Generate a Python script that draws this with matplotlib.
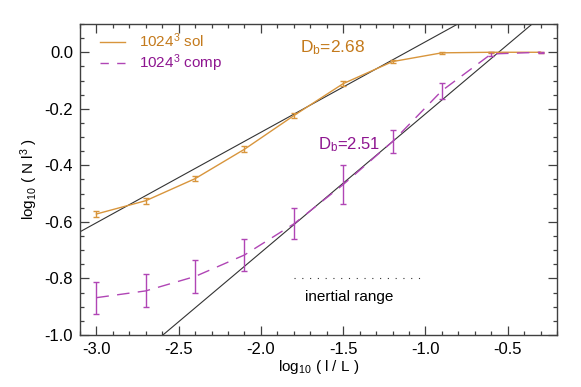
import numpy as np
import matplotlib
matplotlib.use("Agg")
import matplotlib.pyplot as plt
from matplotlib.ticker import MultipleLocator
from matplotlib.lines import Line2D

plt.rcParams['font.family'] = ['Liberation Sans', 'DejaVu Sans']
plt.rcParams['mathtext.fontset'] = 'custom'
plt.rcParams['mathtext.rm'] = 'Liberation Sans'
plt.rcParams['mathtext.it'] = 'Liberation Sans'
plt.rcParams['mathtext.default'] = 'regular'
plt.rcParams['axes.unicode_minus'] = False

# data
log_l = [-3.0, -2.7, -2.4, -2.1, -1.8, -1.5, -1.2, -0.9, -0.6, -0.3]
sol_y = [-0.572, -0.525, -0.447, -0.343, -0.224, -0.111, -0.033, -0.002, 0.0, 0.0]
sol_err = [0.010, 0.010, 0.010, 0.010, 0.010, 0.008, 0.006, 0.003, 0.002, 0.001]
comp_y = [-0.868, -0.844, -0.793, -0.717, -0.607, -0.468, -0.316, -0.136, -0.006, 0.0]
comp_err = [0.057, 0.058, 0.059, 0.057, 0.055, 0.068, 0.042, 0.028, 0.008, 0.002]
fit_sol_D, fit_sol_c = 2.68, 0.357
fit_comp_D, fit_comp_c = 2.51, 0.272
inertial = [-1.8, -1.0]
inertial_y = -0.8

c_sol_line = '#D8953C'
c_sol_text = '#C47A1C'
c_comp_line = '#B045B5'
c_comp_text = '#8E1590'
spine_c = '#404040'

fig = plt.figure(figsize=(5.81, 3.87), dpi=100)
ax = fig.add_axes([0.1377, 0.1344, 0.821, 0.8036])

xf = np.array([-3.1, -0.2])
ax.plot(xf, (3 - fit_sol_D) * xf + fit_sol_c, color='#333333', lw=0.8)
ax.plot(xf, (3 - fit_comp_D) * xf + fit_comp_c, color='#333333', lw=0.8)

comp_ls = (0, (9, 6))
ax.errorbar(log_l, sol_y, yerr=sol_err, color=c_sol_line, lw=1.0,
            elinewidth=1.0, capsize=2, capthick=1.0)
ax.errorbar(log_l, comp_y, yerr=comp_err, color=c_comp_line, lw=1.0,
            ls=comp_ls, elinewidth=1.0, capsize=2, capthick=1.0)

ax.plot(inertial, [inertial_y, inertial_y], ls=(0, (1, 6)), color='#333333', lw=0.8)
ax.text(-1.73, -0.866, 'inertial range', fontsize=11, va='center', ha='left', color='black')
ax.text(-1.76, 0.017, 'D$_b$=2.68', fontsize=12.5, va='center', ha='left', color=c_sol_text)
ax.text(-1.655, -0.327, 'D$_b$=2.51', fontsize=12, va='center', ha='left', color=c_comp_text)

ax.set_xlim(-3.1, -0.2)
ax.set_ylim(-1.0, 0.1)
ax.xaxis.set_major_locator(MultipleLocator(0.5))
ax.xaxis.set_minor_locator(MultipleLocator(0.1))
ax.yaxis.set_major_locator(MultipleLocator(0.2))
ax.yaxis.set_minor_locator(MultipleLocator(0.05))
ax.tick_params(which='both', direction='in', top=True, right=True, color=spine_c, labelsize=12)
ax.tick_params(which='major', length=6.5, width=0.9, pad=5)
ax.tick_params(which='minor', length=3.2, width=0.9)
for s in ax.spines.values():
    s.set_color(spine_c)
    s.set_linewidth(1.0)

ax.set_xlabel('log$_{10}$ ( l / L )', fontsize=11, labelpad=1)
ax.set_ylabel('log$_{10}$ ( N l$^3$ )', fontsize=11, labelpad=3)

handles = [Line2D([], [], color=c_sol_line, lw=1.0),
           Line2D([], [], color=c_comp_line, lw=1.0, ls=(0, (6, 6)))]
leg = ax.legend(handles, ['1024$^3$ sol', '1024$^3$ comp'], loc='upper left',
                bbox_to_anchor=(0.042, 0.975), borderaxespad=0, borderpad=0,
                frameon=False, fontsize=11, handlelength=1.65,
                handletextpad=0.9, labelspacing=0.15)
for t, c in zip(leg.get_texts(), [c_sol_text, c_comp_text]):
    t.set_color(c)

fig.savefig('out.png', dpi=100)
